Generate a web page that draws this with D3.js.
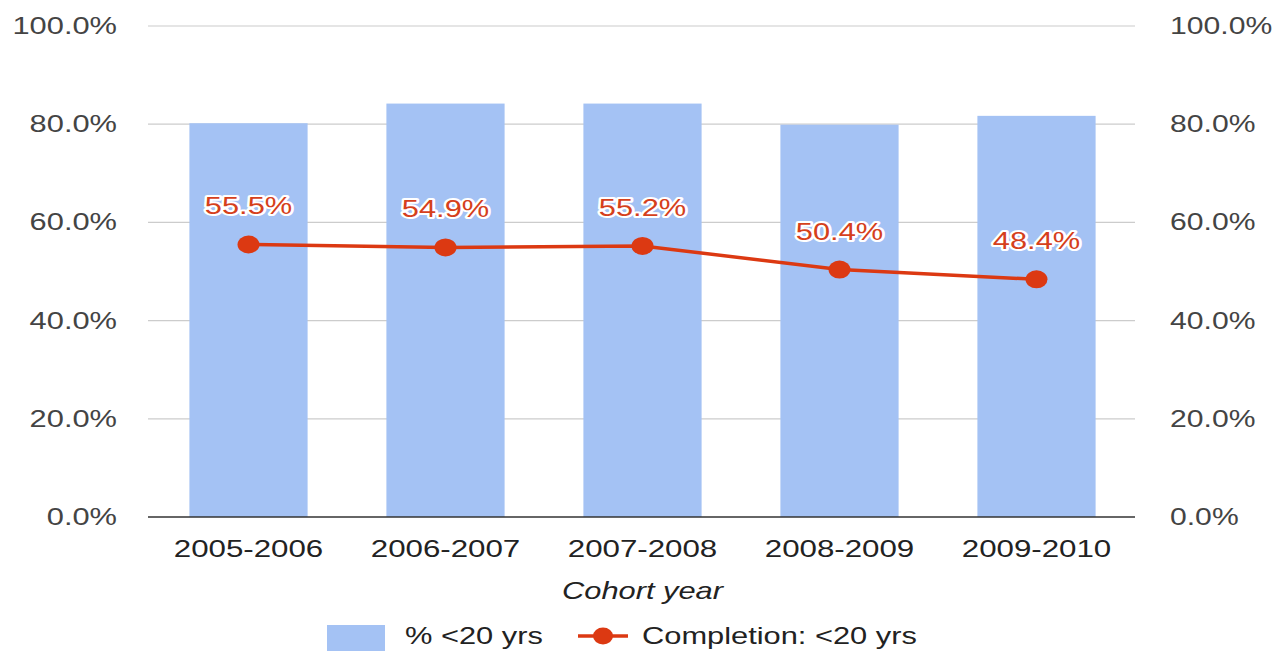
<!DOCTYPE html>
<html><head><meta charset="utf-8">
<script src="https://cdn.jsdelivr.net/npm/d3@7"></script>
<style>body{margin:0;background:#fff}svg{display:block}text{font-family:"Liberation Sans",Arial,sans-serif}</style>
</head><body>
<svg id="c" width="1276" height="651"></svg>
<script>
const categories = ["2005-2006","2006-2007","2007-2008","2008-2009","2009-2010"];
const pctUnder20 = [80.2, 84.2, 84.2, 79.9, 81.7];
const completion = [55.5, 54.9, 55.2, 50.4, 48.4];
const yTicks = [0, 20, 40, 60, 80, 100];
const seriesNames = ["% <20 yrs", "Completion: <20 yrs"];
const xTitle = "Cohort year";

const SX = 1.34, FS = 23;
const barColor = "#a4c2f4", lineColor = "#dc3912", labelColor = "#d5401c";
const svg = d3.select("#c");
const L = 150, R = 1135, T = 26, B = 517;

const x = d3.scaleBand().domain(categories).range([L, R]).paddingInner(0.4).paddingOuter(0.2);
const y = d3.scaleLinear().domain([0, 100]).range([B, T]);

function txt(g, tx, ty, s, anchor, opts = {}) {
  return g.append("text")
    .attr("transform", `translate(${tx},${ty}) scale(${opts.sx || SX},1)`)
    .attr("text-anchor", anchor)
    .attr("font-size", opts.size || FS)
    .attr("font-style", opts.italic ? "italic" : null)
    .attr("fill", opts.fill || "#444")
    .text(s);
}

// gridlines
svg.append("g").selectAll("line").data(yTicks.filter(d => d > 0)).join("line")
  .attr("x1", L - 2).attr("x2", R).attr("y1", d => y(d)).attr("y2", d => y(d))
  .attr("stroke", "#cccccc").attr("stroke-width", 1.2);

// bars
svg.append("g").selectAll("rect").data(categories).join("rect")
  .attr("x", d => x(d)).attr("width", x.bandwidth())
  .attr("y", (d, i) => y(pctUnder20[i])).attr("height", (d, i) => y(0) - y(pctUnder20[i]))
  .attr("fill", barColor);

// baseline
svg.append("line").attr("x1", L - 2).attr("x2", R).attr("y1", y(0)).attr("y2", y(0))
  .attr("stroke", "#333").attr("stroke-width", 1.5);

// axis labels
const fmt = d3.format(".1f");
const ga = svg.append("g");
yTicks.forEach(t => {
  txt(ga, 117, y(t) + 8, fmt(t) + "%", "end");
  txt(ga, 1170, y(t) + 8, fmt(t) + "%", "start", {sx: 1.31});
});
categories.forEach(c => txt(ga, x(c) + x.bandwidth() / 2, 557, c, "middle", {fill: "#222", sx: 1.36}));
txt(ga, (L + R) / 2, 599, xTitle, "middle", {italic: true, fill: "#222"});

// line
const cx = i => x(categories[i]) + x.bandwidth() / 2;
svg.append("path").datum(completion)
  .attr("d", d3.line().x((d, i) => cx(i)).y(d => y(d)))
  .attr("fill", "none").attr("stroke", lineColor).attr("stroke-width", 3.5);
svg.append("g").selectAll("ellipse").data(completion).join("ellipse")
  .attr("cx", (d, i) => cx(i)).attr("cy", d => y(d)).attr("rx", 11).attr("ry", 9)
  .attr("fill", lineColor);

// data labels
const gl = svg.append("g");
completion.forEach((v, i) => {
  const t = txt(gl, cx(i), y(v) - 30, fmt(v) + "%", "middle", {fill: labelColor});
  t.attr("stroke", "#fff").attr("stroke-width", 4).attr("stroke-linejoin", "round").attr("paint-order", "stroke");
});

// legend
const lg = svg.append("g");
lg.append("rect").attr("x", 327).attr("y", 625).attr("width", 58).attr("height", 30).attr("fill", barColor);
txt(lg, 405, 644, seriesNames[0], "start", {fill: "#222"});
lg.append("line").attr("x1", 578).attr("x2", 628).attr("y1", 636).attr("y2", 636).attr("stroke", lineColor).attr("stroke-width", 3.5);
lg.append("ellipse").attr("cx", 603).attr("cy", 636).attr("rx", 10).attr("ry", 8.5).attr("fill", lineColor);
txt(lg, 642, 644, seriesNames[1], "start", {fill: "#222"});
</script>
</body></html>
